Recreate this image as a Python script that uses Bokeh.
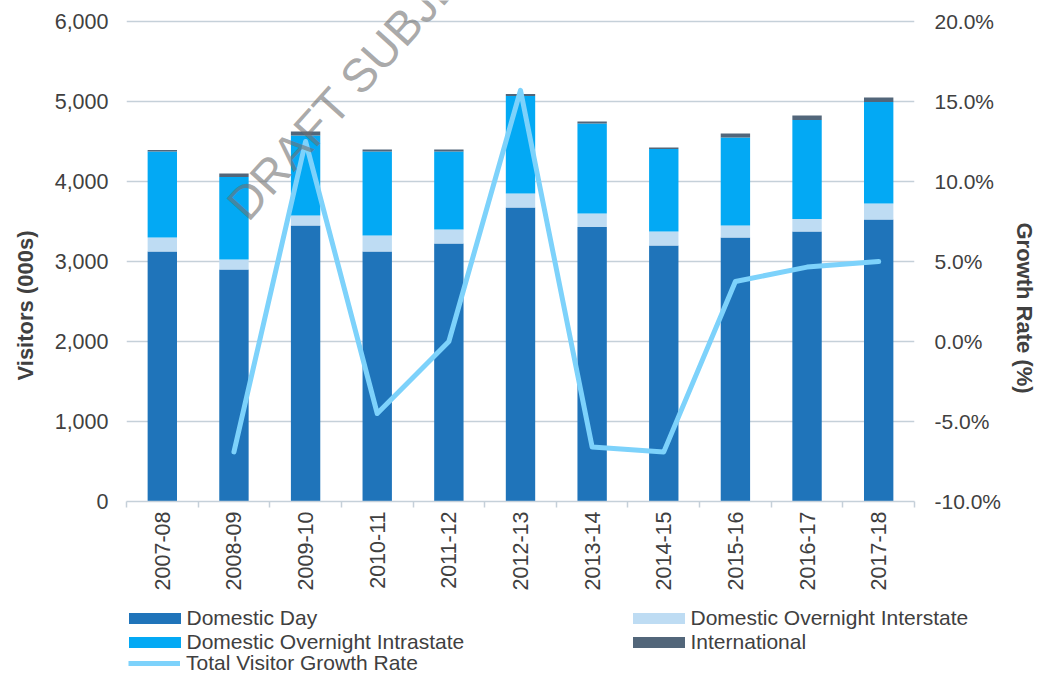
import math
from bokeh.plotting import figure
from bokeh.layouts import column
from bokeh.models import (Range1d, LinearAxis, FixedTicker, NumeralTickFormatter,
                          PrintfTickFormatter, Legend, LegendItem, Label, Grid, Title,
                          ColumnDataSource)
from bokeh.embed import file_html
from bokeh.resources import INLINE

# ---------------- data ----------------
categories = ["2007-08", "2008-09", "2009-10", "2010-11", "2011-12", "2012-13",
              "2013-14", "2014-15", "2015-16", "2016-17", "2017-18"]
domestic_day = [3125, 2900, 3450, 3125, 3225, 3675, 3430, 3200, 3300, 3375, 3525]
domestic_interstate = [175, 125, 125, 200, 175, 175, 170, 175, 150, 155, 200]
domestic_intrastate = [1075, 1030, 1000, 1050, 975, 1220, 1125, 1030, 1100, 1240, 1270]
international = [20, 45, 50, 25, 25, 25, 25, 20, 50, 55, 55]
growth_rate = [float("nan"), -6.9, 12.5, -4.5, 0.0, 15.7, -6.6, -6.9, 3.75, 4.65, 5.0]
visitor_ticks = [0, 1000, 2000, 3000, 4000, 5000, 6000]
growth_ticks = [-10, -5, 0, 5, 10, 15, 20]

series_names = ["Domestic Day", "Domestic Overnight Interstate",
                "Domestic Overnight Intrastate", "International"]
series_keys = ["dd", "inter", "intra", "intl"]
series_colors = ["#1F74BA", "#BEDCF3", "#03A9F4", "#52667A"]
line_name = "Total Visitor Growth Rate"
line_color = "#7DD2FB"

FONT = "Liberation Sans"
TXT = "#404040"
GRID = "#C5D0D9"

# layout (pixels)
W, H = 1041, 675
LEG_H = 75
CH = H - LEG_H
FRAME_L, FRAME_R, FRAME_B = 121, 919, 501
TOP_PAD = 21            # space between top of frame and the 6000 gridline
PLOT_H = FRAME_B - TOP_PAD

n = len(categories)
source = ColumnDataSource(dict(
    x=list(range(n)),
    dd=domestic_day, inter=domestic_interstate, intra=domestic_intrastate,
    intl=international, growth=growth_rate,
))

v0, v1 = visitor_ticks[0], visitor_ticks[-1]
g0, g1 = growth_ticks[0], growth_ticks[-1]
p = figure(width=W, height=CH, output_backend="svg", toolbar_location=None,
           x_range=Range1d(-0.5, n - 0.5),
           y_range=Range1d(v0, v1 + (v1 - v0) * TOP_PAD / PLOT_H),
           x_axis_type=None, y_axis_type=None,
           min_border_left=FRAME_L, min_border_right=W - FRAME_R,
           min_border_top=0, min_border_bottom=CH - FRAME_B)
p.outline_line_color = None
p.frame_align = False
p.extra_y_ranges = {"growth": Range1d(g0, g1 + (g1 - g0) * TOP_PAD / PLOT_H)}

# axes
left_axis = LinearAxis(ticker=FixedTicker(ticks=visitor_ticks),
                       formatter=NumeralTickFormatter(format="0,0"))
right_axis = LinearAxis(y_range_name="growth", ticker=FixedTicker(ticks=growth_ticks),
                        formatter=PrintfTickFormatter(format="%.1f%%"))
for ax, standoff, fs in ((left_axis, 18, "21.5px"), (right_axis, 20, "21px")):
    ax.axis_line_color = None
    ax.major_tick_line_color = None
    ax.minor_tick_line_color = None
    ax.major_tick_out = 0
    ax.major_tick_in = 0
    ax.minor_tick_out = 0
    ax.minor_tick_in = 0
    ax.major_label_standoff = standoff
    ax.major_label_text_font = FONT
    ax.major_label_text_font_size = fs
    ax.major_label_text_color = TXT
p.add_layout(left_axis, "left")
p.add_layout(right_axis, "right")

bottom_axis = LinearAxis(
    ticker=FixedTicker(ticks=list(range(n)), minor_ticks=[i - 0.5 for i in range(n + 1)]),
    major_label_overrides={i: c for i, c in enumerate(categories)},
    major_label_orientation=math.pi / 2,
)
bottom_axis.major_tick_out = 0
bottom_axis.major_tick_in = 0
bottom_axis.major_tick_line_color = None
bottom_axis.minor_tick_out = 6
bottom_axis.minor_tick_in = 0
bottom_axis.minor_tick_line_color = GRID
bottom_axis.minor_tick_line_width = 1.5
bottom_axis.axis_line_color = GRID
bottom_axis.axis_line_width = 1.5
bottom_axis.major_label_standoff = 4
bottom_axis.major_label_text_font = FONT
bottom_axis.major_label_text_font_size = "21.5px"
bottom_axis.major_label_text_color = TXT
p.add_layout(bottom_axis, "below")

p.add_layout(Grid(dimension=1, ticker=left_axis.ticker, grid_line_color=GRID,
                  grid_line_width=1.5))

# bars
bars = p.vbar_stack(series_keys, x="x", width=0.41, source=source,
                    fill_color=series_colors, line_color=None)

# watermark
p.add_layout(Label(x=1.03, y=3620, text="DRAFT SUBJECT TO CHANGE", angle=48, angle_units="deg",
                   text_font=FONT, text_font_size="47px", text_color="#707070",
                   text_alpha=0.6, text_align="left", text_baseline="alphabetic"))

# growth line
gline = p.line(x="x", y="growth", source=source, y_range_name="growth",
               line_color=line_color, line_width=5, line_join="round", line_cap="round")

# axis titles
p.add_layout(Title(text="Visitors (000s)", align="left", offset=121, standoff=24,
                   vertical_align="top",
                   text_font=FONT, text_font_size="22px", text_font_style="bold",
                   text_color=TXT), "left")
p.add_layout(Title(text="Growth Rate (%)", align="left", offset=222, standoff=10,
                   vertical_align="top",
                   text_font=FONT, text_font_size="22px", text_font_style="bold",
                   text_color=TXT), "right")

# ---------------- legend strip ----------------
# same series drawn in a strip whose ranges keep them out of view; only the legends show
lp = figure(width=W, height=LEG_H, output_backend="svg", toolbar_location=None,
            x_range=Range1d(-40, -39), y_range=Range1d(-40000, -39999),
            x_axis_type=None, y_axis_type=None,
            min_border_left=0, min_border_right=0, min_border_top=0, min_border_bottom=0)
lp.outline_line_color = None
lp.frame_align = False
lp.xgrid.visible = False
lp.ygrid.visible = False
proxies = lp.vbar_stack(series_keys, x="x", width=0.41, source=source,
                        fill_color=series_colors, line_color=None)
line_proxy = lp.line(x="x", y="growth", source=source,
                     line_color=line_color, line_width=5)


def make_legend(items, loc, gw, standoff):
    lg = Legend(items=items, location=loc, glyph_width=gw, glyph_height=14,
                label_standoff=standoff, padding=0, spacing=0, margin=0,
                background_fill_alpha=0, border_line_color=None,
                label_text_font=FONT, label_text_font_size="21px", label_text_color=TXT)
    lp.add_layout(lg)
    return lg


make_legend([LegendItem(label=series_names[0], renderers=[proxies[0]]),
             LegendItem(label=series_names[2], renderers=[proxies[2]])], (121.5, 21), 65, 0)
make_legend([LegendItem(label=series_names[1], renderers=[proxies[1]]),
             LegendItem(label=series_names[3], renderers=[proxies[3]])], (625.5, 21), 65, 0)
make_legend([LegendItem(label=line_name, renderers=[line_proxy])], (128, 0), 52, 6)

open("out.html", "w").write(file_html(column(p, lp, spacing=0), INLINE))
